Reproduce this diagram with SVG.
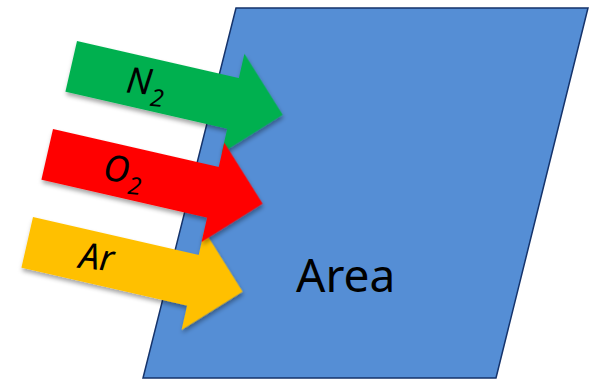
<svg xmlns="http://www.w3.org/2000/svg" width="591" height="380" viewBox="0 0 591 380">
  <style>
    .label { font-family: "Noto Sans", "Open Sans", "Liberation Sans", sans-serif; fill: #000000; }
    .gas { font-size: 36px; font-style: italic; }
    .sub { font-size: 24px; font-style: italic; }
    .area { font-size: 46px; }
    .arrow { filter: url(#shadow); }
  </style>
  <defs>
    <filter id="shadow" x="-20%" y="-20%" width="140%" height="150%">
      <feDropShadow dx="1.5" dy="3" stdDeviation="2" flood-color="#000000" flood-opacity="0.35"/>
    </filter>
  </defs>

  <!-- surface -->
  <g id="area">
    <polygon points="236,8 588,8 496,378 143,378" fill="#558ED5" stroke="#15336B" stroke-width="1.5"/>
    <text class="label area" x="296" y="292">Area</text>
  </g>

  <!-- gas flow arrows: each drawn in its own frame, rotated along the flow;
       labels are eased back a little toward upright -->
  <g id="n2" transform="translate(77,41) rotate(12.9)">
    <polygon class="arrow" points="0,0 166,0 166,-25 217,26 166,77 166,52 0,52" fill="#00B050"/>
    <text class="label gas" x="57" y="37" transform="rotate(-7 75 26)">N<tspan class="sub" dy="11">2</tspan></text>
  </g>

  <g id="ar" transform="translate(33,217) rotate(12.9)">
    <polygon class="arrow" points="0,0 170,0 170,-25 221,26 170,77 170,52 0,52" fill="#FFC000"/>
    <text class="label gas" x="54" y="37" transform="rotate(-7 73 26)">Ar</text>
  </g>

  <g id="o2" transform="translate(53,129) rotate(12.9)">
    <polygon class="arrow" points="0,0 170,0 170,-25 221,26 170,77 170,52 0,52" fill="#FF0000"/>
    <text class="label gas" x="58" y="37" transform="rotate(-7 73 26)">O<tspan class="sub" dy="11">2</tspan></text>
  </g>

  <g id="connectors"/>
</svg>
